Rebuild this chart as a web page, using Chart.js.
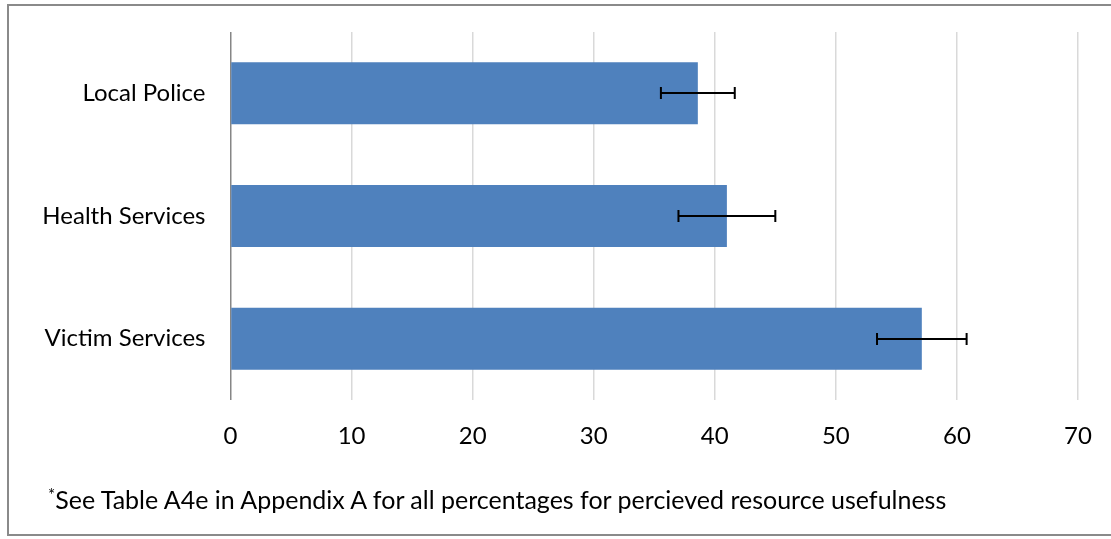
<!DOCTYPE html>
<html>
<head>
<meta charset="utf-8">
<script src="https://cdn.jsdelivr.net/npm/chart.js@4"></script>
<style>
  html, body { margin: 0; padding: 0; background: #fff; }
  #wrap { position: relative; width: 1111px; height: 539px; overflow: hidden; }
  #frame {
    position: absolute; left: 7px; top: 4px; width: 1200px; height: 532px;
    border-left: 2px solid #8a8a8a; border-top: 2px solid #8a8a8a; border-bottom: 2px solid #8a8a8a;
    box-sizing: border-box;
  }
  #chart { position: absolute; left: 0; top: 0; }
  #note {
    position: absolute; left: 48px; top: 484px;
    font-family: Lato, "Open Sans", sans-serif; font-size: 25px; color: #000; white-space: nowrap;
  }
  #note sup { font-size: 17px; vertical-align: 8px; line-height: 0; }
</style>
</head>
<body>
<div id="wrap">
  <div id="frame"></div>
  <canvas id="chart" width="1111" height="539"></canvas>
  <div id="note"><sup>*</sup>See Table A4e in Appendix A for all percentages for percieved resource usefulness</div>
</div>
<script>
// Perceived usefulness of resources (%), with error margins
const categories = ['Local Police', 'Health Services', 'Victim Services'];
const usefulness = [38.6, 41.0, 57.1];
const errorMargin = [3.05, 4.0, 3.7];
const xTicks = [0, 10, 20, 30, 40, 50, 60, 70];

const labelFont = { family: 'Lato, "Open Sans", sans-serif', size: 24 };

// Draws horizontal error bars with end caps on each bar
const errorBars = {
  id: 'errorBars',
  afterDatasetsDraw(chart) {
    const meta = chart.getDatasetMeta(0);
    const xs = chart.scales.x;
    const ctx = chart.ctx;
    ctx.save();
    ctx.strokeStyle = '#000';
    ctx.lineWidth = 2;
    meta.data.forEach((bar, i) => {
      const y = Math.round(bar.y);
      const x0 = xs.getPixelForValue(usefulness[i] - errorMargin[i]);
      const x1 = xs.getPixelForValue(usefulness[i] + errorMargin[i]);
      ctx.beginPath();
      ctx.moveTo(x0, y); ctx.lineTo(x1, y);
      ctx.moveTo(x0, y - 6); ctx.lineTo(x0, y + 6);
      ctx.moveTo(x1, y - 6); ctx.lineTo(x1, y + 6);
      ctx.stroke();
    });
    ctx.restore();
  }
};

new Chart(document.getElementById('chart'), {
  type: 'bar',
  data: {
    labels: categories,
    datasets: [{
      data: usefulness,
      backgroundColor: '#4f81bd',
      borderWidth: 0,
      categoryPercentage: 1.0,
      barPercentage: 0.505
    }]
  },
  options: {
    indexAxis: 'y',
    responsive: false,
    animation: false,
    devicePixelRatio: 1,
    layout: { padding: { top: 32, right: 33, bottom: 0, left: 0 } },
    plugins: { legend: { display: false }, tooltip: { enabled: false } },
    scales: {
      x: {
        min: 0, max: 70,
        afterBuildTicks(scale) { scale.ticks = xTicks.map(v => ({ value: v })); },
        afterFit(scale) {
          scale.height = 139;
          scale.paddingLeft = 0;
          scale.paddingRight = 0;
        },
        border: { display: false },
        grid: {
          drawTicks: false,
          lineWidth: 1.5,
          color: c => (c.tick && c.tick.value === 0) ? '#868686' : '#d9d9d9'
        },
        ticks: { color: '#000', font: labelFont, padding: 22 }
      },
      y: {
        afterFit(scale) {
          scale.width = 230.5;
          scale.paddingTop = 0;
          scale.paddingBottom = 0;
        },
        border: { display: false },
        grid: { display: false, drawTicks: false },
        ticks: { color: '#000', font: labelFont, padding: 25 }
      }
    }
  },
  plugins: [errorBars]
});
</script>
</body>
</html>
